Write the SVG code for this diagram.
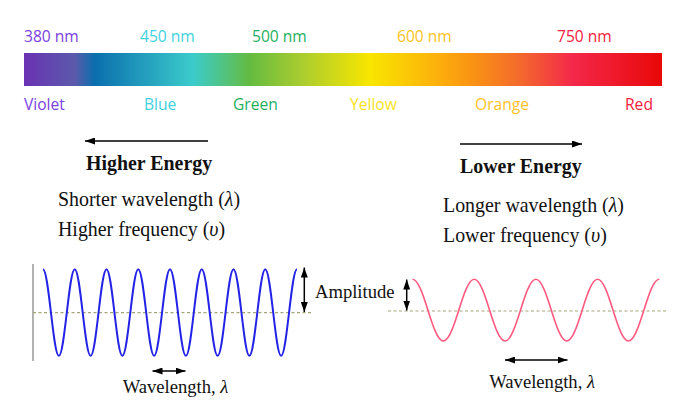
<svg xmlns="http://www.w3.org/2000/svg" width="700" height="414" viewBox="0 0 700 414">
<style>
.sans{font-family:"Open Sans","Liberation Sans",sans-serif;font-size:15.6px}
.serif{font-family:"Liberation Serif","Times New Roman",serif;font-size:19.9px;fill:#111}
.bold{font-weight:bold}
.it{font-style:italic}
.cap{font-family:"Liberation Serif","Times New Roman",serif;font-size:18.6px;fill:#111}
.arr{stroke:#000;stroke-width:1.5;fill:none}
.dash{stroke:#a5a57a;stroke-width:1.2;stroke-dasharray:3,2.5;fill:none}
</style>
<defs>
<linearGradient id="spec" x1="0" y1="0" x2="1" y2="0">
<stop offset="0" stop-color="#6a32b4"/>
<stop offset="0.08" stop-color="#5b5aab"/>
<stop offset="0.111" stop-color="#0a6fae"/>
<stop offset="0.265" stop-color="#3ccccc"/>
<stop offset="0.354" stop-color="#64bb40"/>
<stop offset="0.433" stop-color="#a8cc30"/>
<stop offset="0.542" stop-color="#f8e600"/>
<stop offset="0.652" stop-color="#fdae0c"/>
<stop offset="0.699" stop-color="#fa9512"/>
<stop offset="0.777" stop-color="#f36a2c"/>
<stop offset="0.86" stop-color="#f4284a"/>
<stop offset="1" stop-color="#e80808"/>
</linearGradient>
<marker id="head" viewBox="0 0 10 7" refX="10" refY="3.5" markerWidth="10" markerHeight="7" markerUnits="userSpaceOnUse" orient="auto-start-reverse">
<path d="M0,0 L10,3.5 L0,7 Z" fill="#000"/>
</marker>
</defs>
<rect width="700" height="414" fill="#fff"/>

<g id="spectrum">
<rect x="24" y="53" width="638" height="33" fill="url(#spec)"/>
<text class="sans" x="24" y="42" fill="#7a3ee0">380 nm</text>
<text class="sans" x="140" y="42" fill="#3ed2e2">450 nm</text>
<text class="sans" x="252" y="42" fill="#1eb060">500 nm</text>
<text class="sans" x="397" y="42" fill="#ffc222">600 nm</text>
<text class="sans" x="557" y="42" fill="#f2203c">750 nm</text>
<text class="sans" x="24" y="110" fill="#7a3ee0">Violet</text>
<text class="sans" x="144" y="110" fill="#3ed2e2">Blue</text>
<text class="sans" x="233" y="110" fill="#1eb060">Green</text>
<text class="sans" x="350" y="110" fill="#f6e21a">Yellow</text>
<text class="sans" x="475" y="110" fill="#ffc222">Orange</text>
<text class="sans" x="625" y="110" fill="#f2203c">Red</text>
</g>

<g id="higher-energy">
<text class="serif bold" x="86" y="170">Higher Energy</text>
<text class="serif" x="58" y="206">Shorter wavelength (<tspan class="it">λ</tspan>)</text>
<text class="serif" x="58" y="236">Higher frequency (<tspan class="it">υ</tspan>)</text>
</g>

<g id="lower-energy">
<text class="serif bold" x="460" y="173">Lower Energy</text>
<text class="serif" x="443" y="212">Longer wavelength (<tspan class="it">λ</tspan>)</text>
<text class="serif" x="443" y="242">Lower frequency (<tspan class="it">υ</tspan>)</text>
</g>

<g id="wave-left">
<line x1="33" y1="264" x2="33" y2="361" stroke="#999" stroke-width="1.5"/>
<line class="dash" x1="33" y1="312.7" x2="312" y2="312.7"/>
<path fill="none" stroke="#2323e6" stroke-width="2" d="M43,269.2 c5.78,0 10.095,86.6 15.875,86.6 s10.095,-86.6 15.875,-86.6 s10.095,86.6 15.875,86.6 s10.095,-86.6 15.875,-86.6 s10.095,86.6 15.875,86.6 s10.095,-86.6 15.875,-86.6 s10.095,86.6 15.875,86.6 s10.095,-86.6 15.875,-86.6 s10.095,86.6 15.875,86.6 s10.095,-86.6 15.875,-86.6 s10.095,86.6 15.875,86.6 s10.095,-86.6 15.875,-86.6 s10.095,86.6 15.875,86.6 s10.095,-86.6 15.875,-86.6 s10.095,86.6 15.875,86.6 s10.095,-86.6 15.875,-86.6"/>
<text class="cap" x="315" y="298">Amplitude</text>
<text class="cap" x="122.7" y="393">Wavelength, <tspan class="it">λ</tspan></text>
</g>

<g id="wave-right">
<line class="dash" x1="388" y1="311" x2="667" y2="311"/>
<path fill="none" stroke="#ff5a80" stroke-width="1.6" d="M412.5,279.3 c11.24,0 19.61,61.7 30.85,61.7 s19.61,-61.7 30.85,-61.7 s19.61,61.7 30.85,61.7 s19.61,-61.7 30.85,-61.7 s19.61,61.7 30.85,61.7 s19.61,-61.7 30.85,-61.7 s19.61,61.7 30.85,61.7 s19.61,-61.7 30.85,-61.7"/>
<text class="cap" x="489.3" y="388">Wavelength, <tspan class="it">λ</tspan></text>
</g>

<g id="connectors">
<line class="arr" x1="208" y1="141" x2="85" y2="141" marker-end="url(#head)"/>
<line class="arr" x1="460" y1="144" x2="582" y2="144" marker-end="url(#head)"/>
<line class="arr" x1="304.3" y1="267.5" x2="304.3" y2="312" marker-start="url(#head)" marker-end="url(#head)"/>
<line class="arr" x1="406.7" y1="279.5" x2="406.7" y2="310.5" marker-start="url(#head)" marker-end="url(#head)"/>
<line class="arr" x1="152.5" y1="371" x2="185.5" y2="371" marker-start="url(#head)" marker-end="url(#head)"/>
<line class="arr" x1="505" y1="360" x2="567.5" y2="360" marker-start="url(#head)" marker-end="url(#head)"/>
</g>
</svg>
